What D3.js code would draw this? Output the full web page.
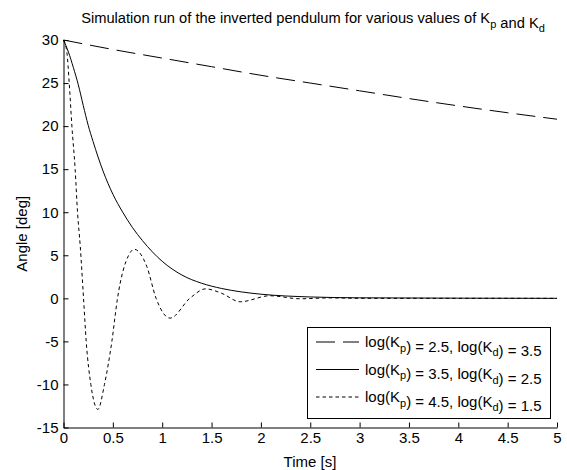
<!DOCTYPE html>
<html>
<head>
<meta charset="utf-8">
<script src="https://cdn.jsdelivr.net/npm/d3@7"></script>
<style>
  body { margin: 0; background: #fff; }
  text { font-family: "Liberation Sans", Arial, sans-serif; fill: #000; }
</style>
</head>
<body>
<svg></svg>
<script>
const tSlow = [0, 0.5, 1, 1.5, 2, 2.5, 3, 3.5, 4, 4.5, 5];
const angleSlow = [30, 28.9, 27.9, 26.9, 25.9, 25.0, 24.1, 23.2, 22.35, 21.55, 20.8];

const tMid = [0, 0.05, 0.1, 0.15, 0.2, 0.25, 0.3, 0.4, 0.5, 0.6, 0.7, 0.8, 0.9, 1.0, 1.2, 1.4, 1.6, 1.8, 2.0, 2.5, 3, 4, 5];
const angleMid = [30, 28.6, 26.8, 24.8, 22.4, 20.1, 18.2, 14.8, 12.1, 10.0, 8.2, 6.7, 5.4, 4.3, 2.7, 1.75, 1.15, 0.75, 0.48, 0.16, 0.06, 0.02, 0];

const tFast = [0, 0.034, 0.058, 0.085, 0.118, 0.142, 0.17, 0.203, 0.23, 0.277, 0.348, 0.415, 0.49, 0.547, 0.66, 0.716, 0.844, 0.938, 1.08, 1.28, 1.44, 1.6, 1.79, 2.09, 2.4, 2.7, 3, 4, 5];
const angleFast = [30, 28.6, 25, 20, 15, 10, 6, 0, -5, -10, -12.9, -10, -5, 0, 5, 5.7, 3.7, 0, -2.3, 0, 1.1, 0.6, -0.4, 0.3, -0.05, 0.05, 0, 0, 0];

const legendKp = ["2.5", "3.5", "4.5"];
const legendKd = ["3.5", "2.5", "1.5"];
const dashes = ["19,8", null, "3.5,3"];

const xTicks = [0, 0.5, 1, 1.5, 2, 2.5, 3, 3.5, 4, 4.5, 5];
const yTicks = [-15, -10, -5, 0, 5, 10, 15, 20, 25, 30];

const series = [
  { t: tSlow, v: angleSlow },
  { t: tMid, v: angleMid },
  { t: tFast, v: angleFast }
].map((s, i) => ({
  points: s.t.map((t, j) => [t, s.v[j]]),
  kp: legendKp[i],
  kd: legendKd[i],
  dash: dashes[i]
}));

const width = 567, height = 470;
const svg = d3.select("svg").attr("width", width).attr("height", height);

const x = d3.scaleLinear().domain([0, 5]).range([63.5, 557]);
const y = d3.scaleLinear().domain([-15, 30]).range([427.5, 40]);

const line = d3.line()
  .x(d => x(d[0]))
  .y(d => y(d[1]))
  .curve(d3.curveMonotoneX);

svg.append("g")
  .selectAll("path")
  .data(series)
  .join("path")
  .attr("d", d => line(d.points))
  .attr("fill", "none")
  .attr("stroke", "#000")
  .attr("stroke-width", 1)
  .attr("stroke-dasharray", d => d.dash);

const xAxis = svg.append("g")
  .attr("transform", `translate(0,${y(-15)})`)
  .call(d3.axisBottom(x).tickValues(xTicks).tickSizeInner(-5).tickSizeOuter(0)
    .tickPadding(5).tickFormat(d => String(d)));

const yAxis = svg.append("g")
  .attr("transform", `translate(${x(0)},0)`)
  .call(d3.axisLeft(y).tickValues(yTicks).tickSizeInner(-5).tickSizeOuter(0)
    .tickPadding(5).tickFormat(d => String(d)));

[xAxis, yAxis].forEach(g => {
  g.selectAll("text").attr("font-size", 15).attr("font-family", null);
  g.selectAll("path, line").attr("stroke", "#000");
});

// text with subscripts
function subText(sel, parts, subSize) {
  parts.forEach(p => {
    if (p.sub) {
      sel.append("tspan").attr("dy", 4.5).attr("font-size", subSize).text(p.sub);
      sel.append("tspan").attr("dy", -4.5).text("");
    } else {
      sel.append("tspan").text(p.s);
    }
  });
}

const title = svg.append("text")
  .attr("x", 313).attr("y", 23)
  .attr("text-anchor", "middle")
  .attr("font-size", 14.7);
subText(title, [
  { s: "Simulation run of the inverted pendulum for various values of K" },
  { sub: "p" }, { s: " and K" }, { sub: "d" }
], 11);

svg.append("text")
  .attr("x", 310).attr("y", 467)
  .attr("text-anchor", "middle")
  .attr("font-size", 15)
  .text("Time [s]");

svg.append("text")
  .attr("transform", `translate(27,${(y(30) + y(-15)) / 2}) rotate(-90)`)
  .attr("text-anchor", "middle")
  .attr("font-size", 15)
  .text("Angle [deg]");

// legend
const legend = svg.append("g");
legend.append("rect")
  .attr("x", 307.5).attr("y", 327.5)
  .attr("width", 243).attr("height", 91)
  .attr("fill", "#fff").attr("stroke", "#000");

const rows = legend.selectAll("g.row")
  .data(series)
  .join("g")
  .attr("class", "row")
  .attr("transform", (d, i) => `translate(0,${342 + i * 27.5})`);

rows.append("line")
  .attr("x1", 316).attr("x2", 359)
  .attr("stroke", "#000")
  .attr("stroke-dasharray", d => d.dash);

rows.each(function (d) {
  const t = d3.select(this).append("text")
    .attr("x", 365).attr("y", 5)
    .attr("font-size", 15);
  subText(t, [
    { s: "log(K" }, { sub: "p" }, { s: `) = ${d.kp}, log(K` }, { sub: "d" }, { s: `) = ${d.kd}` }
  ], 11);
});
</script>
</body>
</html>
